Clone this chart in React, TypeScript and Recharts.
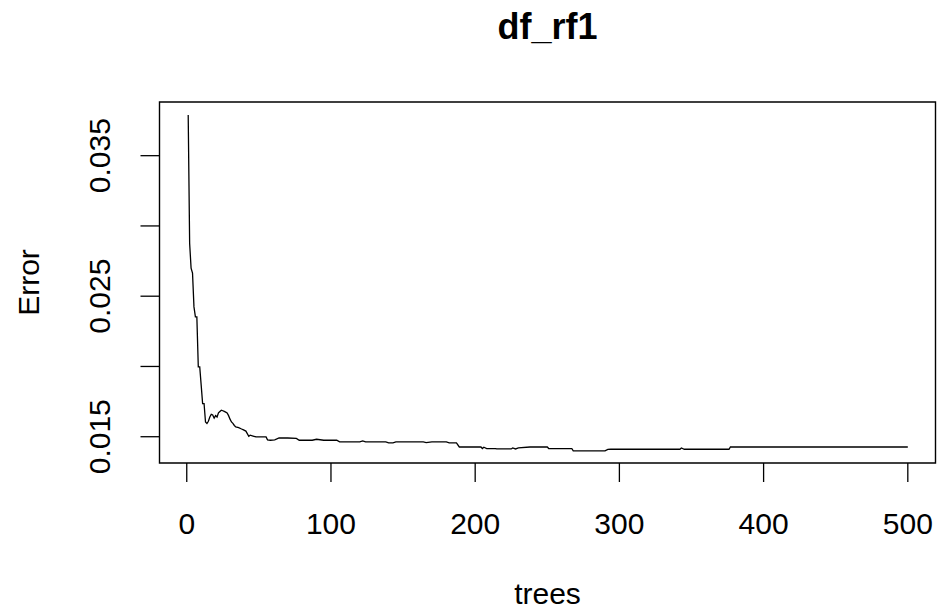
import { LineChart, Line, XAxis, YAxis, ReferenceArea } from "recharts";

// OOB error by number of trees
const trees = [
  1, 2, 3, 4, 5, 6, 7, 8, 9, 10, 11, 12, 13, 14, 15, 16, 17, 18, 19, 20, 21, 22, 23, 24, 25, 26, 27, 28, 29, 30,
  31, 32, 33, 34, 36, 38, 39, 41, 43, 44, 46, 48, 55, 56, 58, 61, 64, 70, 76, 78, 87, 90, 95, 104, 106, 120,
  122, 124, 138, 140, 143, 145, 164, 166, 170, 180, 182, 187, 189, 204, 205, 206, 208, 214, 215, 225, 226,
  228, 230, 238, 250, 251, 267, 268, 290, 292, 294, 342, 343, 345, 376, 377, 500
];
const errors = [
  0.0379, 0.02876, 0.027, 0.02664, 0.02424, 0.02353, 0.02353, 0.01997, 0.01997, 0.01867, 0.01736, 0.01736,
  0.01605, 0.01594, 0.0161, 0.0164, 0.0166, 0.01655, 0.01632, 0.0165, 0.0164, 0.0167, 0.0168, 0.01689,
  0.01685, 0.0168, 0.01675, 0.01669, 0.0165, 0.01625, 0.01605, 0.01595, 0.0158, 0.0157, 0.01565, 0.01555,
  0.01551, 0.0154, 0.01503, 0.01511, 0.01505, 0.01499, 0.01499, 0.01478, 0.01475, 0.01478, 0.01491,
  0.01491, 0.01488, 0.01475, 0.01475, 0.01482, 0.01475, 0.01475, 0.01463, 0.01463, 0.0147, 0.01463,
  0.01463, 0.01456, 0.01456, 0.01463, 0.01463, 0.01458, 0.01463, 0.01463, 0.01456, 0.01456, 0.01427,
  0.01427, 0.01416, 0.01425, 0.01416, 0.01416, 0.01413, 0.01413, 0.0142, 0.01413, 0.0142, 0.01427,
  0.01427, 0.01416, 0.01416, 0.01399, 0.01399, 0.0141, 0.01411, 0.01411, 0.0142, 0.01411, 0.01411,
  0.01427, 0.01427
];

const xTicks = [0, 100, 200, 300, 400, 500];
const yTicks = [0.015, 0.02, 0.025, 0.03, 0.035];
const yLabelled = ["0.015", "0.025", "0.035"];

const data = trees.map((t, i) => ({ trees: t, error: errors[i] }));

const X_DOMAIN: [number, number] = [-18.9, 519.2];
const Y_DOMAIN: [number, number] = [0.01313, 0.03882];
const FONT = "'Liberation Sans', Arial, sans-serif";

function XTick(props: any) {
  const { x, payload } = props;
  return (
    <text x={x} y={533.5} textAnchor="middle" fontSize={30} fontFamily={FONT} fill="#000">
      {payload.value}
    </text>
  );
}

function YTick(props: any) {
  const { y, payload } = props;
  const label = Number(payload.value).toFixed(3);
  if (!yLabelled.includes(label)) return null;
  return (
    <text
      x={110}
      y={y}
      transform={`rotate(-90, 110, ${y})`}
      textAnchor="middle"
      fontSize={30}
      fontFamily={FONT}
      fill="#000"
    >
      {label}
    </text>
  );
}

export default function App() {
  return (
    <div style={{ position: "absolute", left: 0, top: 0, width: 937, height: 616, background: "#fff" }}>
      <LineChart
        width={937}
        height={616}
        data={data}
        margin={{ top: 102, right: 1.5, bottom: 93, left: 0 }}
      >
        <XAxis
          dataKey="trees"
          type="number"
          domain={X_DOMAIN}
          allowDataOverflow
          ticks={xTicks}
          axisLine={false}
          tickLine={{ stroke: "#000", strokeWidth: 1.3 }}
          tickSize={19}
          tick={<XTick />}
          height={60}
          interval={0}
        />
        <YAxis
          type="number"
          domain={Y_DOMAIN}
          allowDataOverflow
          ticks={yTicks}
          axisLine={false}
          tickLine={{ stroke: "#000", strokeWidth: 1.3 }}
          tickSize={19}
          tick={<YTick />}
          width={159.5}
          interval={0}
        />
        <ReferenceArea
          x1={X_DOMAIN[0]}
          x2={X_DOMAIN[1]}
          y1={Y_DOMAIN[0]}
          y2={Y_DOMAIN[1]}
          fill="none"
          fillOpacity={0}
          stroke="#000"
          strokeWidth={1.4}
          ifOverflow="visible"
        />
        <Line
          dataKey="error"
          type="linear"
          stroke="#000"
          strokeWidth={1.3}
          dot={false}
          isAnimationActive={false}
        />
      </LineChart>
      <svg
        width={937}
        height={616}
        style={{ position: "absolute", left: 0, top: 0, pointerEvents: "none" }}
      >
        <text x={547.5} y={39} textAnchor="middle" fontSize={36} fontWeight="bold" fontFamily={FONT} fill="#000">
          df_rf1
        </text>
        <text x={547.5} y={604} textAnchor="middle" fontSize={30} fontFamily={FONT} fill="#000">
          trees
        </text>
        <text
          x={39}
          y={282.5}
          transform="rotate(-90, 39, 282.5)"
          textAnchor="middle"
          fontSize={30}
          fontFamily={FONT}
          fill="#000"
        >
          Error
        </text>
      </svg>
    </div>
  );
}
